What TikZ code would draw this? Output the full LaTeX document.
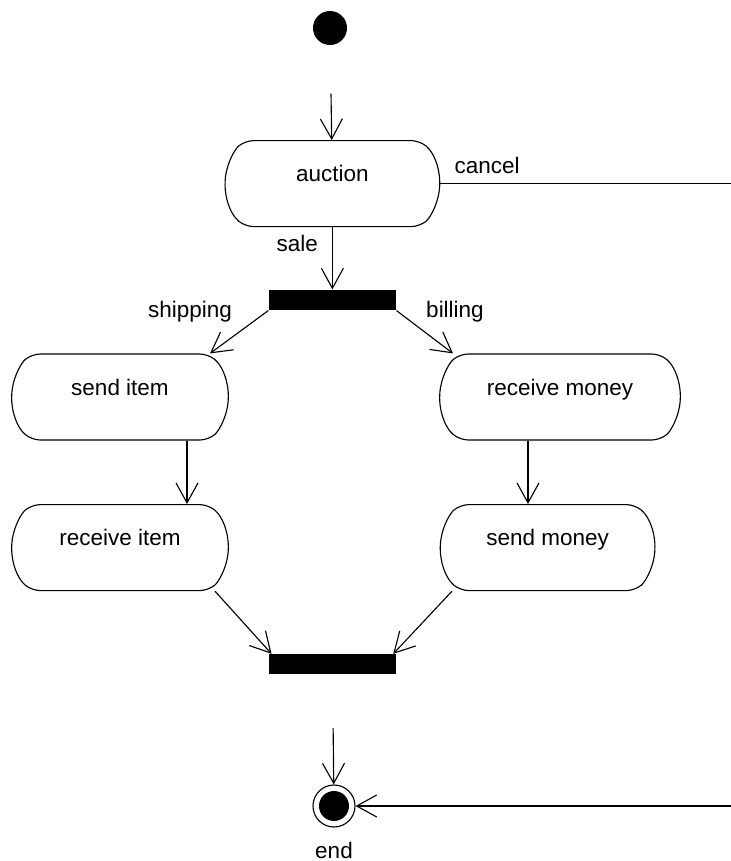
\documentclass[tikz,border=0pt]{standalone}
\usepackage{fontspec}
\setmainfont{Liberation Sans}
\usetikzlibrary{arrows.meta,shapes.misc}

\begin{document}
\begin{tikzpicture}[
    font=\fontsize{16}{19}\selectfont,
    line width=0.8pt,
    action/.style={rounded rectangle, rounded rectangle arc length=100, rounded corners=6pt, draw, minimum height=2.15cm, text height=0.45cm, text depth=0.55cm},
    bar/.style={fill=black, minimum width=3.175cm, minimum height=0.5cm, inner sep=0pt},
    startdot/.style={circle, fill=black, minimum size=0.85cm, inner sep=0pt},
    enddot/.style={circle, draw, minimum size=1.05cm, inner sep=0pt,
        path picture={\fill (path picture bounding box.center) circle (0.375cm);}},
    lbl/.style={inner sep=1pt},
    arr/.style={-{Straight Barb[length=0.5cm, width=0.55cm]}}
]
\useasboundingbox (0,0) rectangle (18.275,-21.525);

% Start and first action.
\node[startdot] (start) at (8.25,-0.7) {};
\node[action, minimum width=5.6cm] (auction) at (8.31,-4.59) {auction};
\node[bar] (fork) at (8.31,-7.5) {};

% Two parallel branches.
\node[action, minimum width=5.65cm] (sitem) at (3.0,-9.925) {send item};
\node[action, minimum width=6.25cm] (rmoney) at (14.0,-9.925) {receive money};
\node[action, minimum width=5.65cm] (ritem) at (3.0,-13.69) {receive item};
\node[action, minimum width=5.6cm] (smoney) at (13.69,-13.69) {send money};

% Join and end.
\node[bar] (join) at (8.31,-16.61) {};
\node[enddot] (end) at (8.35,-20.15) {};
\node[lbl] (endlbl) at (8.35,-21.25) {end};
\coordinate (cancelout) at (18.275,-4.59);
\coordinate (cancelin) at (18.275,-20.15);

% Labels.
\node[lbl] (cancel) at (12.18,-4.13) {cancel};
\node[lbl] (sale) at (7.43,-6.08) {sale};
\node[lbl] (shipping) at (4.75,-7.8) {shipping};
\node[lbl] (billing) at (11.375,-7.8) {billing};

% Transitions.
\draw[arr, shorten <=1.2cm] (start) -- (auction);
\draw (auction.east) -- (cancelout);
\draw[arr] (auction.south) -- (fork.north);
\draw[arr] (fork.south west) -- ([xshift=2.25cm]sitem.north);
\draw[arr] (fork.south east) -- ([xshift=-2.675cm]rmoney.north);
\draw[arr] ([xshift=1.675cm]sitem.south) -- ([xshift=1.675cm]sitem.south |- ritem.north);
\draw[arr] ([xshift=-0.8cm]rmoney.south) -- ([xshift=-0.8cm]rmoney.south |- smoney.north);
\draw[arr] ([xshift=2.375cm]ritem.south) -- ([xshift=0.08cm]join.north west);
\draw[arr] ([xshift=-2.39cm]smoney.south) -- ([xshift=-0.08cm]join.north east);
\draw[arr, shorten <=1.33cm] (join) -- (end);
\draw[arr] (cancelin) -- (end.east);
\end{tikzpicture}
\end{document}
